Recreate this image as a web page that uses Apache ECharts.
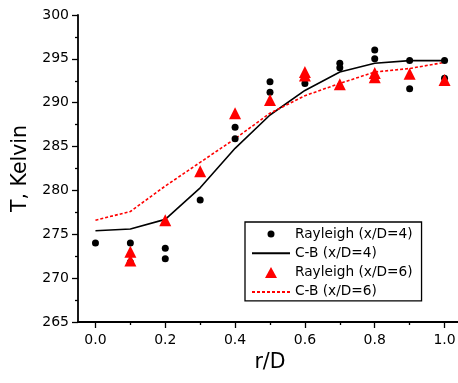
<!DOCTYPE html>
<html><head><meta charset="utf-8">
<script src="https://cdn.jsdelivr.net/npm/echarts@6/dist/echarts.min.js"></script>
<style>html,body{margin:0;padding:0;background:#fff}#c{width:458px;height:383px}</style>
</head><body><div id="c"></div>
<script>
// Rayleigh x/D=4 (black dots)
const ray4R = [0.0, 0.1, 0.1, 0.2, 0.2, 0.3, 0.4, 0.4, 0.5, 0.5, 0.6, 0.7, 0.7, 0.8, 0.8, 0.9, 0.9, 1.0, 1.0];
const ray4T = [274.0, 274.0, 271.8, 273.4, 272.2, 278.9, 287.2, 285.9, 292.4, 291.2, 292.2, 294.5, 294.0, 296.0, 295.0, 294.8, 291.6, 294.8, 292.8];
// Rayleigh x/D=6 (red triangles)
const ray6R = [0.1, 0.1, 0.2, 0.3, 0.4, 0.5, 0.6, 0.6, 0.7, 0.8, 0.8, 0.9, 1.0];
const ray6T = [273.0, 272.0, 276.6, 282.2, 288.8, 290.3, 293.5, 293.1, 292.1, 293.4, 292.9, 293.3, 292.6];
// C-B model curves
const cbR = [0.0, 0.1, 0.2, 0.3, 0.4, 0.5, 0.6, 0.7, 0.8, 0.9, 1.0];
const cb4T = [275.4, 275.6, 276.7, 280.3, 284.8, 288.6, 291.4, 293.5, 294.5, 294.8, 294.8];
const cb6T = [276.6, 277.6, 280.5, 283.2, 285.9, 288.8, 290.8, 292.2, 293.5, 293.9, 294.6];
const xTickLabels = [0.0, 0.2, 0.4, 0.6, 0.8, 1.0];
const xMinorTicks = [0.1, 0.3, 0.5, 0.7, 0.9];

const zip = (a, b) => a.map((v, i) => [v, b[i]]);
const FONT = 'DejaVu Sans, Liberation Sans, Arial, sans-serif';

const chart = echarts.init(document.getElementById('c'), null, {renderer: 'canvas'});
const baseX = {
  type: 'value', min: -0.05, max: 1.05,
  axisLine: {show: true, onZero: false, lineStyle: {color: '#000', width: 1.8}},
  splitLine: {show: false}
};
chart.setOption({
  animation: false,
  backgroundColor: '#fff',
  grid: {left: 78, top: 15, width: 384, height: 307, containLabel: false, outerBoundsMode: 'none'},
  xAxis: [
    Object.assign({}, baseX, {
      name: 'r/D', nameLocation: 'middle', nameGap: 28,
      nameTextStyle: {fontFamily: FONT, fontSize: 20.5, color: '#000'},
      axisTick: {show: true, inside: false, length: 6, customValues: xTickLabels, lineStyle: {color: '#000', width: 1.3}},
      axisLabel: {show: true, customValues: xTickLabels, margin: 11, fontFamily: FONT, fontSize: 14, color: '#000',
        formatter: v => v.toFixed(1)}
    }),
    Object.assign({}, baseX, {
      position: 'bottom',
      axisLine: {show: false},
      axisTick: {show: true, length: 3, customValues: xMinorTicks, lineStyle: {color: '#000', width: 1.3}},
      axisLabel: {show: false}
    })
  ],
  yAxis: {
    type: 'value', min: 265, max: 300, interval: 5,
    name: 'T, Kelvin', nameLocation: 'middle', nameGap: 45, nameRotate: 90,
    nameTextStyle: {fontFamily: FONT, fontSize: 20.5, color: '#000'},
    axisLine: {show: true, onZero: false, lineStyle: {color: '#000', width: 1.8}},
    axisTick: {show: true, length: 6, lineStyle: {color: '#000', width: 1.3}},
    minorTick: {show: true, splitNumber: 2, length: 3, lineStyle: {color: '#000', width: 1.3}},
    axisLabel: {margin: 9, fontFamily: FONT, fontSize: 14, color: '#000'},
    splitLine: {show: false}
  },
  legend: {
    left: 245, top: 222, orient: 'vertical',
    borderColor: '#000', borderWidth: 1.3, borderRadius: 0,
    padding: [4, 9, 1, 6], itemGap: 3.3, itemWidth: 38, itemHeight: 14,
    textStyle: {fontFamily: FONT, fontSize: 13.7, lineHeight: 16, color: '#000'},
    data: [
      {name: 'Rayleigh (x/D=4)', icon: 'path://M0,0 M14,14 M7,3.5 A3.5,3.5 0 1 1 7,10.5 A3.5,3.5 0 1 1 7,3.5 Z'},
      {name: 'C-B (x/D=4)', itemStyle: {opacity: 0}},
      {name: 'Rayleigh (x/D=6)', icon: 'path://M0,0 M14,14 M7,1.5 L13,12.5 L1,12.5 Z'},
      {name: 'C-B (x/D=6)', itemStyle: {opacity: 0}}
    ]
  },
  series: [
    {name: 'C-B (x/D=4)', type: 'line', data: zip(cbR, cb4T), symbol: 'none',
     lineStyle: {color: '#000', width: 1.6}, itemStyle: {color: '#000'}, z: 2},
    {name: 'C-B (x/D=6)', type: 'line', data: zip(cbR, cb6T), symbol: 'none',
     lineStyle: {color: '#ff0000', width: 1.6, type: [3, 2]}, itemStyle: {color: '#ff0000'}, z: 2},
    {name: 'Rayleigh (x/D=4)', type: 'scatter', data: zip(ray4R, ray4T), symbol: 'circle', symbolSize: 7,
     itemStyle: {color: '#000', opacity: 1}, z: 3},
    {name: 'Rayleigh (x/D=6)', type: 'scatter', data: zip(ray6R, ray6T), symbol: 'triangle', symbolSize: 12,
     itemStyle: {color: '#ff0000', opacity: 1}, z: 4}
  ]
});
</script></body></html>
